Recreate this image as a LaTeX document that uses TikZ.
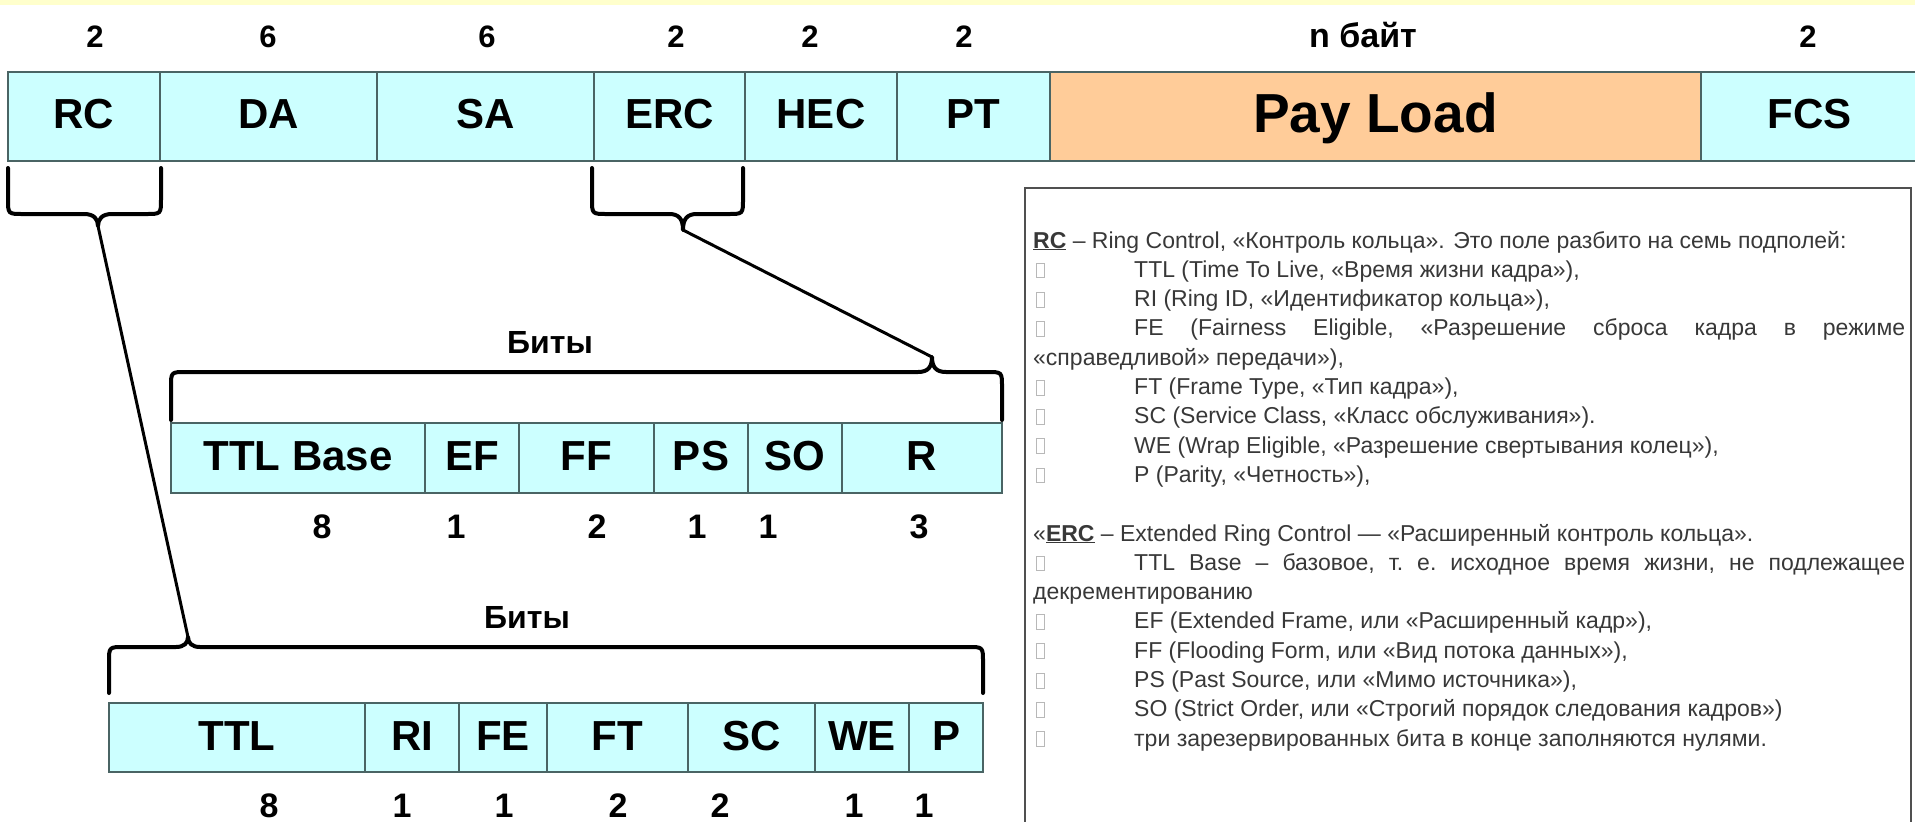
\documentclass[tikz,border=0pt]{standalone}
\usepackage{fontspec}
\setmainfont{Liberation Sans}

\definecolor{fieldfill}{HTML}{CCFFFF}
\definecolor{loadfill}{HTML}{FFCC99}
\definecolor{fieldline}{HTML}{4A6464}
\definecolor{band}{HTML}{FFFFCC}
\definecolor{desctext}{HTML}{383838}
\definecolor{descline}{HTML}{505050}
\definecolor{bulletgrey}{HTML}{B8B8B8}

% hollow marker plus tab at the start of a list line
\newcommand\bx{\hbox to 101pt{\hspace{3pt}\textcolor{bulletgrey}{\fboxsep=0pt\fboxrule=0.8pt\fbox{\rule{0pt}{14pt}\rule{7pt}{0pt}}}\hfil}}
\newcommand\descline[1]{\hbox to \linewidth{#1\hfil}}
\newcommand\justline[1]{\hbox to \linewidth{#1}}

\tikzset{
  field/.style={draw=fieldline, line width=2pt, fill=fieldfill, inner sep=0pt, outer sep=0pt,
    font=\fontsize{42}{48}\selectfont\bfseries, text height=30pt, text depth=5pt},
  topfield/.style={field, minimum height=89pt, text depth=7pt},
  rowfield/.style={field, minimum height=70pt},
  bytes/.style={anchor=base, inner sep=0pt, font=\fontsize{31}{36}\selectfont\bfseries},
  bits/.style={anchor=base, inner sep=0pt, font=\fontsize{34}{40}\selectfont\bfseries},
  caption/.style={anchor=base, inner sep=0pt, font=\fontsize{32}{38}\selectfont\bfseries},
  brace/.style={line width=4pt, line cap=round, line join=round},
  conn/.style={line width=3pt, line cap=round},
}

\begin{document}
\begin{tikzpicture}[x=1pt,y=-1pt]
\useasboundingbox (0,0) rectangle (1915,822);
\fill[band] (0,0) rectangle (1915,5);

% frame fields
\node[topfield, minimum width=152pt] (rc)  at (84,116.5)   {RC};
\node[topfield, minimum width=217pt] (da)  at (268.5,116.5) {DA};
\node[topfield, minimum width=217pt] (sa)  at (485.5,116.5) {SA};
\node[topfield, minimum width=151pt] (erc) at (669.5,116.5) {ERC};
\node[topfield, minimum width=152pt] (hec) at (821,116.5)  {HEC};
\node[topfield, minimum width=153pt] (pt)  at (973.5,116.5) {PT};
\node[topfield, minimum width=651pt, fill=loadfill, font=\fontsize{55}{62}\selectfont\bfseries,
      text height=39pt, text depth=8pt] (load) at (1375.5,116.5) {Pay Load};
\node[topfield, minimum width=217pt] (fcs) at (1809.5,116.5) {FCS};

% field sizes in bytes
\node[bytes] (nrc)  at (95,47)  {2};
\node[bytes] (nda)  at (268,47) {6};
\node[bytes] (nsa)  at (487,47) {6};
\node[bytes] (nerc) at (676,47) {2};
\node[bytes] (nhec) at (810,47) {2};
\node[bytes] (npt)  at (964,47) {2};
\node[bytes, font=\fontsize{34}{40}\selectfont\bfseries] (nload) at (1363,47) {n байт};
\node[bytes] (nfcs) at (1808,47) {2};

% ERC subfields
\node[rowfield, minimum width=254pt] (ttlb) at (298,458)   {TTL Base};
\node[rowfield, minimum width=94pt]  (ef)   at (472,458)   {EF};
\node[rowfield, minimum width=135pt] (ff)   at (586.5,458) {FF};
\node[rowfield, minimum width=94pt]  (ps)   at (701,458)   {PS};
\node[rowfield, minimum width=94pt]  (so)   at (795,458)   {SO};
\node[rowfield, minimum width=160pt] (r)    at (922,458)   {R};

\node[bits] (bttlb) at (322,538) {8};
\node[bits] (bef)   at (456,538) {1};
\node[bits] (bff)   at (597,538) {2};
\node[bits] (bps)   at (697,538) {1};
\node[bits] (bso)   at (768,538) {1};
\node[bits] (br)    at (919,538) {3};
\node[caption] (capmid) at (550,353) {Биты};

% RC subfields
\node[rowfield, minimum width=256pt, minimum height=69pt] (ttl) at (237,737.5)   {TTL};
\node[rowfield, minimum width=94pt,  minimum height=69pt] (ri)  at (412,737.5)   {RI};
\node[rowfield, minimum width=88pt,  minimum height=69pt] (fe)  at (503,737.5)   {FE};
\node[rowfield, minimum width=141pt, minimum height=69pt] (ft)  at (617.5,737.5) {FT};
\node[rowfield, minimum width=127pt, minimum height=69pt] (sc)  at (751.5,737.5) {SC};
\node[rowfield, minimum width=94pt,  minimum height=69pt] (we)  at (862,737.5)   {WE};
\node[rowfield, minimum width=74pt,  minimum height=69pt] (p)   at (946,737.5)   {P};

\node[bits] (bttl) at (269,817) {8};
\node[bits] (bri)  at (402,817) {1};
\node[bits] (bfe)  at (504,817) {1};
\node[bits] (bft)  at (618,817) {2};
\node[bits] (bsc)  at (720,817) {2};
\node[bits] (bwe)  at (854,817) {1};
\node[bits] (bp)   at (924,817) {1};
\node[caption] (capbot) at (527,628) {Биты};

% brace tips
\coordinate (rctip)  at (98,226);
\coordinate (erctip) at (683,230);
\coordinate (midtip) at (932,357);
\coordinate (bottip) at (188,637);

% braces under RC and ERC
\draw[brace] (8,168) -- (8,199) .. controls (8,214) .. (23,214) -- (84,214)
  .. controls (94,214) and (98,219) .. (rctip) .. controls (98,219) and (102,214) .. (112,214)
  -- (146,214) .. controls (161,214) .. (161,199) -- (161,168);
\draw[brace] (592,168) -- (592,199) .. controls (592,214) .. (607,214) -- (669,214)
  .. controls (679,214) and (683,219) .. (erctip) .. controls (683,219) and (687,214) .. (697,214)
  -- (728,214) .. controls (743,214) .. (743,199) -- (743,168);

% braces over the bit rows
\draw[brace] (171,420) -- (171,387) .. controls (171,372) .. (186,372) -- (918,372)
  .. controls (928,372) and (932,367) .. (midtip) .. controls (932,367) and (936,372) .. (946,372)
  -- (987,372) .. controls (1002,372) .. (1002,387) -- (1002,420);
\draw[brace] (109,693) -- (109,662) .. controls (109,647) .. (124,647) -- (176,647)
  .. controls (184,647) and (188,643) .. (bottip) .. controls (188,643) and (192,647) .. (200,647)
  -- (968,647) .. controls (983,647) .. (983,662) -- (983,693);

% links from fields to their breakdown
\draw[conn] (rctip) -- (bottip);
\draw[conn] (erctip) -- (midtip);

% description panel
\node[draw=descline, line width=2pt, inner sep=0pt, minimum width=886pt, minimum height=660pt,
      anchor=north west] (descbox) at (1024,187) {};
\node[anchor=base west, inner sep=0pt, text=desctext, font=\fontsize{23}{29.3}\selectfont]
  (desc) at (1033,248) {\parbox[t]{872pt}{%
\descline{\underline{\textbf{RC}} – Ring Control, «Контроль кольца». Это поле разбито на семь подполей:}
\descline{\bx TTL (Time To Live, «Время жизни кадра»),}
\descline{\bx RI (Ring ID, «Идентификатор кольца»),}
\justline{\bx FE\hfill(Fairness\hfill Eligible,\hfill «Разрешение\hfill сброса\hfill кадра\hfill в\hfill режиме}
\descline{«справедливой» передачи»),}
\descline{\bx FT (Frame Type, «Тип кадра»),}
\descline{\bx SC (Service Class, «Класс обслуживания»).}
\descline{\bx WE (Wrap Eligible, «Разрешение свертывания колец»),}
\descline{\bx P (Parity, «Четность»),}
\hbox{}
\descline{«\underline{\textbf{ERC}} – Extended Ring Control — «Расширенный контроль кольца».}
\justline{\bx TTL\hfill Base\hfill –\hfill базовое,\hfill т.\hfill е.\hfill исходное\hfill время\hfill жизни,\hfill не\hfill подлежащее}
\descline{декрементированию}
\descline{\bx EF (Extended Frame, или «Расширенный кадр»),}
\descline{\bx FF (Flooding Form, или «Вид потока данных»),}
\descline{\bx PS (Past Source, или «Мимо источника»),}
\descline{\bx SO (Strict Order, или «Строгий порядок следования кадров»)}
\descline{\bx три зарезервированных бита в конце заполняются нулями.}
}};
\end{tikzpicture}
\end{document}
